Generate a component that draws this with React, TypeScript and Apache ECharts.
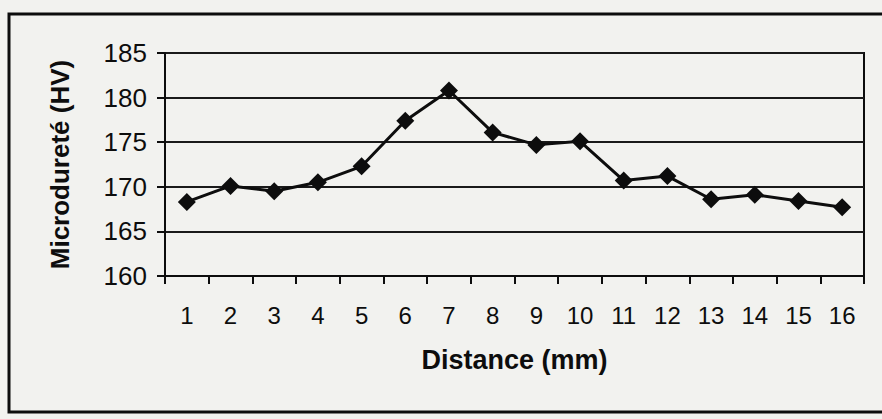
import React, { useEffect, useRef } from "react";
import * as echarts from "echarts";

// Distance positions along the profile (mm)
const distances = ["1", "2", "3", "4", "5", "6", "7", "8", "9", "10", "11", "12", "13", "14", "15", "16"];
// Vickers microhardness measured at each position (HV)
const hardness = [168.3, 170.1, 169.5, 170.5, 172.3, 177.4, 180.8, 176.1, 174.7, 175.1, 170.7, 171.2, 168.6, 169.1, 168.4, 167.7];
// Value axis range
const yMin = 160;
const yMax = 185;
const yStep = 5;

export default function App() {
  const ref = useRef<HTMLDivElement>(null);

  useEffect(() => {
    document.body.style.margin = "0";
    if (!ref.current) return;
    const chart = echarts.init(ref.current, undefined, { renderer: "svg" });
    const ink = "#0d0d0d";
    chart.setOption({
      animation: false,
      backgroundColor: "#f2f2ef",
      textStyle: { fontFamily: "Liberation Sans, Arial, sans-serif" },
      grid: {
        left: 165,
        right: 18,
        top: 53,
        bottom: 143,
        show: true,
        borderColor: ink,
        borderWidth: 2,
        backgroundColor: "transparent",
      },
      graphic: [
        {
          type: "rect",
          shape: { x: 9, y: 14, width: 900, height: 398 },
          style: { fill: "none", stroke: ink, lineWidth: 3 },
          silent: true,
        },
      ],
      xAxis: {
        type: "category",
        data: distances,
        boundaryGap: true,
        axisLine: { show: true, lineStyle: { color: ink, width: 2 } },
        axisTick: { show: true, inside: false, length: 8, lineStyle: { color: ink, width: 2 } },
        axisLabel: { color: ink, fontSize: 24, margin: 27 },
        splitLine: { show: false },
        name: "Distance (mm)",
        nameLocation: "middle",
        nameGap: 70,
        nameTextStyle: { color: ink, fontSize: 27, fontWeight: "bold" },
      },
      yAxis: {
        type: "value",
        min: yMin,
        max: yMax,
        interval: yStep,
        axisLine: { show: true, lineStyle: { color: ink, width: 2 } },
        axisTick: { show: true, inside: false, length: 8, lineStyle: { color: ink, width: 2 } },
        axisLabel: { color: ink, fontSize: 26, margin: 18 },
        splitLine: { show: true, lineStyle: { color: "#1a1a1a", width: 2 } },
        name: "Microdureté (HV)",
        nameLocation: "middle",
        nameRotate: 90,
        nameGap: 92,
        nameTextStyle: { color: ink, fontSize: 26, fontWeight: "bold" },
      },
      series: [
        {
          type: "line",
          data: hardness,
          symbol: "diamond",
          symbolSize: 18,
          lineStyle: { color: ink, width: 3 },
          itemStyle: { color: ink },
        },
      ],
    });
    return () => chart.dispose();
  }, []);

  return <div ref={ref} style={{ width: 882, height: 419 }} />;
}
